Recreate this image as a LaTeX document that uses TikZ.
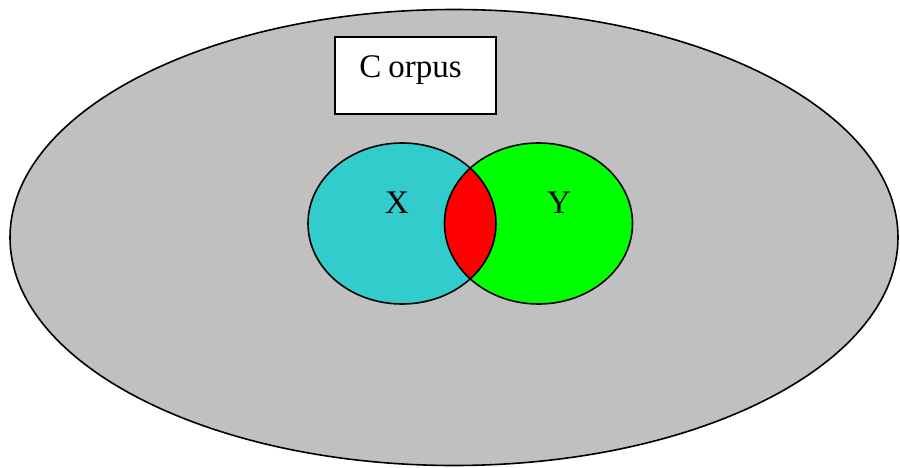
\documentclass[tikz,border=0pt]{standalone}
\usepackage{fontspec}
\setmainfont{Liberation Serif}
\usetikzlibrary{shapes.geometric}
\definecolor{corpusgray}{HTML}{C0C0C0}
\definecolor{xcyan}{HTML}{33CCCC}
\definecolor{ygreen}{HTML}{00FF00}
\definecolor{lensred}{HTML}{FF0000}
\begin{document}
\begin{tikzpicture}[x=1pt,y=-1pt,
  outline/.style={draw=black,line width=1.6pt},
  setshape/.style={ellipse,inner sep=0pt,minimum width=188pt,minimum height=161pt},
  lbl/.style={font=\fontsize{33}{36}\selectfont,inner sep=0pt}]
\useasboundingbox (0,0) rectangle (900,468);
\node[ellipse,outline,fill=corpusgray,minimum width=888pt,minimum height=456pt,inner sep=0pt] (corpus) at (454,237.5) {};
\node[draw=black,line width=1.8pt,fill=white,minimum width=161pt,minimum height=77pt,inner sep=0pt] (box) at (415.5,75.5) {};
\node[lbl] (boxlbl) at (410.5,70) {C\kern7pt orpus};
\node[setshape,fill=xcyan] (X) at (402,223.5) {};
\node[setshape,fill=ygreen] (Y) at (538.5,223.5) {};
\begin{scope}
  \clip (X.center) ellipse [x radius=94pt,y radius=80.5pt];
  \fill[lensred] (Y.center) ellipse [x radius=93.5pt,y radius=80.5pt];
\end{scope}
\node[setshape,outline] (Xo) at (X.center) {};
\node[setshape,outline] (Yo) at (Y.center) {};
\node[lbl] (xlbl) at (397,203) {X};
\node[lbl] (ylbl) at (559,203) {Y};
\end{tikzpicture}
\end{document}
